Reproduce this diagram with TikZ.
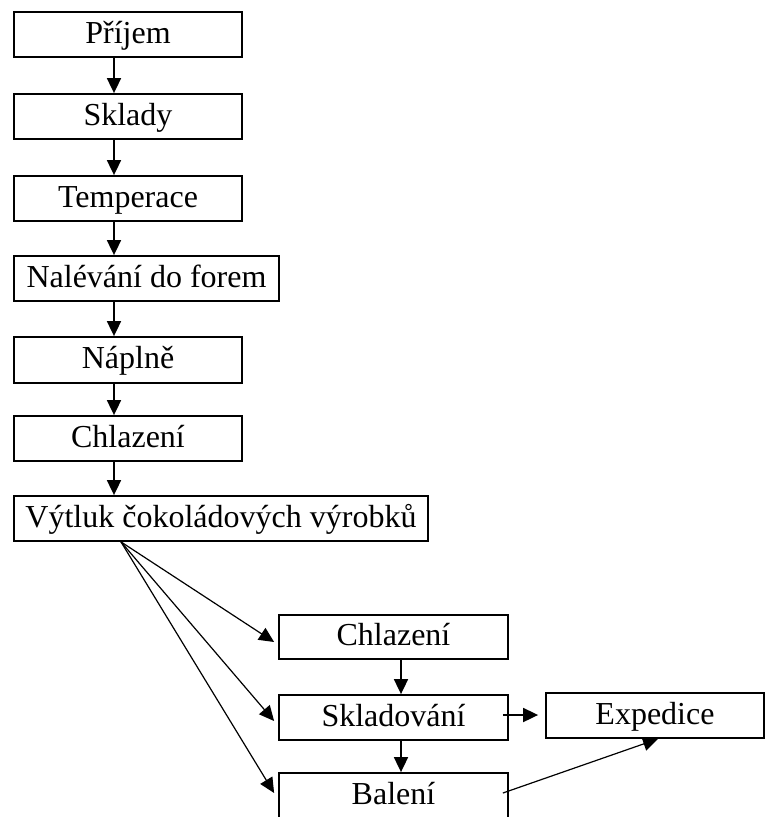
\documentclass[tikz,border=0pt]{standalone}
\usepackage{fontspec}
\setmainfont{Liberation Serif}
\usetikzlibrary{arrows.meta,calc}
\begin{document}
\begin{tikzpicture}[x=1pt,y=-1pt,
  box/.style={draw,line width=1.8pt,inner sep=0pt,minimum height=45pt,
    text height=18pt,text depth=1pt,font=\fontsize{32}{38}\selectfont},
  arr/.style={line width=1.8pt,-{Triangle[length=15pt,width=14pt]}},
  thinarr/.style={line width=1.2pt,-{Triangle[length=15pt,width=14pt]}}]
\useasboundingbox (0,0) rectangle (766,817);
\clip (0,0) rectangle (766,817);
\node[box,minimum width=228pt] (p1) at (128,34.5) {Příjem};
\node[box,minimum width=228pt] (p2) at (128,116.5) {Sklady};
\node[box,minimum width=228pt] (p3) at (128,198.5) {Temperace};
\node[box,minimum width=265pt] (p4) at (146.5,278.5) {Nalévání do forem};
\node[box,minimum width=228pt,minimum height=46pt] (p5) at (128,360) {Náplně};
\node[box,minimum width=228pt] (p6) at (128,438.5) {Chlazení};
\node[box,minimum width=414pt] (p7) at (221,518.5) {Výtluk čokoládových výrobků};
\node[box,minimum width=229pt,minimum height=44pt] (c2) at (393.5,637) {Chlazení};
\node[box,minimum width=229pt] (s) at (393.5,717.5) {Skladování};
\node[box,minimum width=229pt,minimum height=46pt] (b) at (393.5,796) {Balení};
\node[box,minimum width=218pt] (e) at (655,715.5) {Expedice};
\coordinate (col) at (114,0);
\coordinate (col2) at (401,0);
\draw[arr] (p1.south -| col) -- (p2.north -| col);
\draw[arr] (p2.south -| col) -- (p3.north -| col);
\draw[arr] (p3.south -| col) -- (p4.north -| col);
\draw[arr] (p4.south -| col) -- (p5.north -| col);
\draw[arr] (p5.south -| col) -- (p6.north -| col);
\draw[arr] (p6.south -| col) -- (p7.north -| col);
\draw[arr] (c2.south -| col2) -- (s.north -| col2);
\draw[arr] (s.south -| col2) -- (b.north -| col2);
\coordinate (fan) at ($(p7.south)+(-100,0)$);
\draw[thinarr] (fan) -- ($(c2.west)+(-4,5)$);
\draw[thinarr] (fan) -- ($(s.west)+(-4,3.5)$);
\draw[thinarr] (fan) -- ($(b.west)+(-4,-3)$);
\draw[arr] ($(s.east)+(-6,-2.5)$) -- ($(e.west)+(-7,-0.5)$);
\draw[thinarr] ($(b.east)+(-6,-3)$) -- ($(e.south)+(3,0)$);
\end{tikzpicture}
\end{document}
